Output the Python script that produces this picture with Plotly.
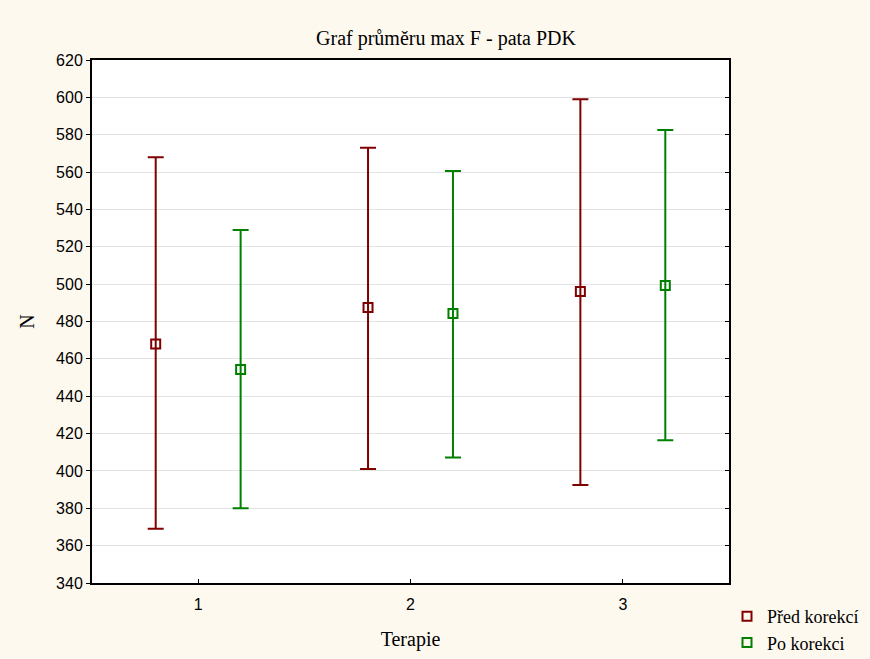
import plotly.graph_objects as go

categories = [1, 2, 3]
offset = 0.2
series_names = ["Před korekcí", "Po korekci"]
means_pred = [468, 487.5, 496]
upper_pred = [568, 573, 599]
lower_pred = [369, 401, 392.5]
means_po = [454.3, 484.3, 499.3]
upper_po = [529, 560.6, 582.5]
lower_po = [380, 407.2, 416.4]
colors = ["#800000", "#008000"]
yticks = list(range(340, 621, 20))

W, H = 870, 659
serif = "Liberation Serif"
fig = go.Figure()
for name, means, up, lo, col, sh in [
    (series_names[0], means_pred, upper_pred, lower_pred, colors[0], -offset),
    (series_names[1], means_po, upper_po, lower_po, colors[1], offset),
]:
    fig.add_trace(go.Scatter(
        x=[c + sh for c in categories], y=means, name=name, mode="markers",
        marker=dict(symbol="square-open", size=9, color=col, line=dict(width=2, color=col)),
        error_y=dict(type="data", symmetric=False,
                     array=[u - m for u, m in zip(up, means)],
                     arrayminus=[m - l for m, l in zip(means, lo)],
                     color=col, thickness=2, width=8),
    ))
fig.add_trace(go.Scatter(x=[None], y=[None], yaxis="y2", showlegend=False, hoverinfo="skip"))

fig.update_layout(
    width=W, height=H,
    paper_bgcolor="#FEF9EF", plot_bgcolor="white",
    margin=dict(l=92, r=141, t=60, b=76, autoexpand=False),
    title=dict(text="Graf průměru max F - pata PDK", x=446 / W, xanchor="center",
               xref="container", y=1 - 38 / H, yanchor="middle",
               font=dict(family=serif, size=20, color="black")),
    showlegend=True,
    legend=dict(xref="container", yref="container", x=727 / W, xanchor="left",
                y=1 - 598 / H, yanchor="top",
                font=dict(family=serif, size=18, color="black"),
                bgcolor="rgba(0,0,0,0)", tracegroupgap=0, itemwidth=30),
    font=dict(family="Liberation Sans", size=16, color="black"),
    xaxis=dict(
        range=[0.5, 3.5], tickvals=categories, ticktext=[str(c) for c in categories],
        showgrid=False, zeroline=False, showline=True, linecolor="black", linewidth=2,
        mirror=True, ticks="inside", ticklen=4, tickcolor="black", ticklabelstandoff=6,
        title=dict(text="Terapie", font=dict(family=serif, size=20), standoff=20),
        tickfont=dict(family="Liberation Sans", size=16),
    ),
    yaxis=dict(
        range=[340, 620], tickvals=yticks, showgrid=True, gridcolor="#E3E3E3", gridwidth=1,
        zeroline=False, showline=True, linecolor="black", linewidth=2, mirror=True,
        ticks="outside", ticklen=4, tickcolor="black",
        title=dict(text="N", font=dict(family=serif, size=20), standoff=16),
        tickfont=dict(family="Liberation Sans", size=16),
    ),
    yaxis2=dict(overlaying="y", side="right", matches="y", range=[340, 620], tickvals=yticks,
                showticklabels=False, ticks="inside", ticklen=4, tickcolor="black",
                showgrid=False, zeroline=False, showline=False),
)
fig.write_html("out.html")
